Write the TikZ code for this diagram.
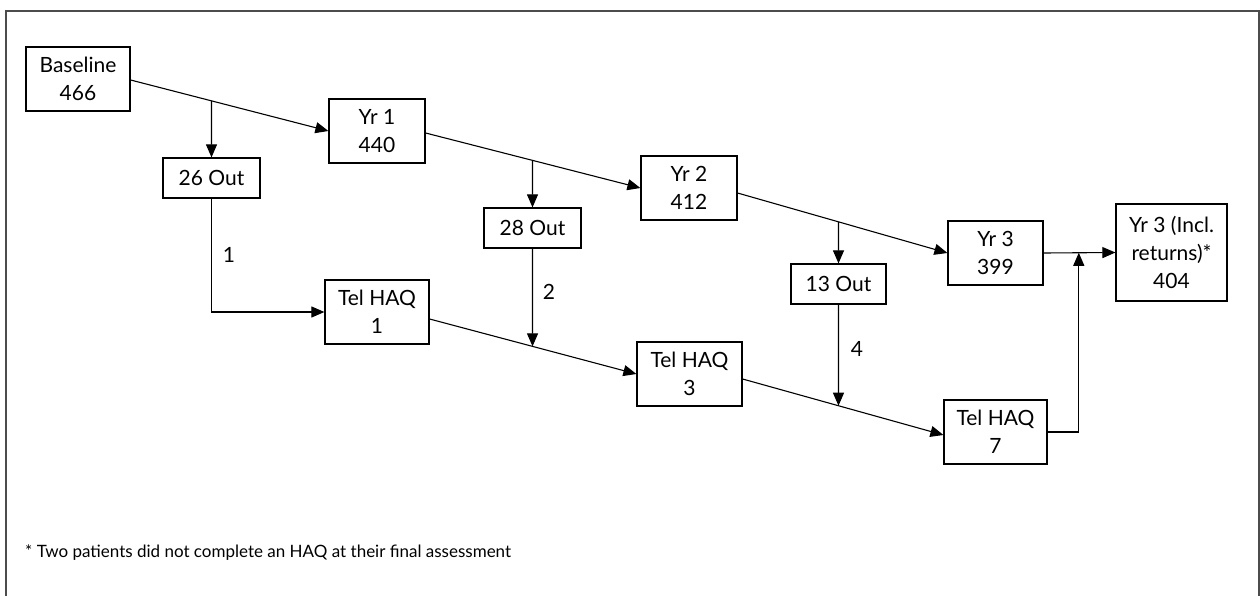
\documentclass[tikz,border=0pt]{standalone}
\usepackage{fontspec}
\setmainfont{Lato}
\usetikzlibrary{arrows.meta,calc}
\begin{document}
\begin{tikzpicture}[x=1pt,y=-1pt,
  box/.style={draw=black, line width=1.2pt, align=center, inner sep=0pt,
    font=\fontsize{21}{28}\selectfont},
  conn/.style={draw=black, line width=1.1pt},
  arr/.style={conn, -{Triangle[length=13pt,width=11pt]}},
  lbl/.style={font=\fontsize{21}{28}\selectfont, inner sep=0pt}]
\useasboundingbox (0,0) rectangle (1260,596);
% frame (three sides)
\draw[black!70, line width=2pt] (6,596) -- (6,11) -- (1259,11) -- (1259,596);

% nodes
\node[box, minimum width=104pt, minimum height=64pt] (base) at (78,79) {Baseline\\466};
\node[box, minimum width=96pt, minimum height=64pt] (yr1) at (377,131) {Yr 1\\440};
\node[box, minimum width=97pt, minimum height=40pt] (out1) at (211.5,178) {26 Out};
\node[box, minimum width=104pt, minimum height=64pt] (tel1) at (377,312) {Tel HAQ\\1};
\node[box, minimum width=96pt, minimum height=64pt] (yr2) at (689,188) {Yr 2\\412};
\node[box, minimum width=97pt, minimum height=40pt] (out2) at (532.5,228) {28 Out};
\node[box, minimum width=105pt, minimum height=64pt] (tel3) at (689.5,374) {Tel HAQ\\3};
\node[box, minimum width=95pt, minimum height=40pt] (out3) at (838.5,284) {13 Out};
\node[box, minimum width=95pt, minimum height=64pt] (yr3) at (995.5,253) {Yr 3\\399};
\node[box, minimum width=111pt, minimum height=97pt] (final) at (1171.5,252.5) {Yr 3 (Incl.\\returns)*\\404};
\node[box, minimum width=103pt, minimum height=64pt] (tel7) at (995.5,432) {Tel HAQ\\7};

% start points on right edges
\coordinate (s0) at ($(base.east)+(0,1)$);
\coordinate (s1) at ($(yr1.east)+(0,2)$);
\coordinate (s2) at ($(yr2.east)+(0,5)$);
\coordinate (t1) at ($(tel1.east)+(0,7)$);
\coordinate (t3) at ($(tel3.east)+(0,5)$);
\coordinate (e3) at ($(tel7.west)+(0,3)$);
\coordinate (j) at ($(yr3.east)!0.49!(final.west)$);

% main flow
\draw[arr] (s0) -- (yr1.west);
\draw[arr] (s1) -- (yr2.west);
\draw[arr] (s2) -- (yr3.west);
\draw[arr] (yr3.east) -- (final.west);
\draw[arr] (t1) -- (tel3.west);
\draw[arr] (t3) -- (e3);

% drop-outs
\draw[arr] (intersection of s0--yr1.west and out1.north--out1.south) -- (out1.north);
\draw[arr] (intersection of s1--yr2.west and out2.north--out2.south) -- (out2.north);
\draw[arr] (intersection of s2--yr3.west and out3.north--out3.south) -- (out3.north);

% to telephone HAQ
\draw[arr] (out1.south) |- (tel1.west);
\draw[arr] (out2.south) -- (intersection of t1--tel3.west and out2.north--out2.south);
\draw[arr] (out3.south) -- (intersection of t3--e3 and out3.north--out3.south);

% returns
\draw[arr] (tel7.east) -- (j |- tel7.east) -- (j);

% labels
\node[lbl] (l1) at (229,255) {1};
\node[lbl] (l2) at (549,292) {2};
\node[lbl] (l4) at (857,349) {4};

\node[lbl, anchor=west, font=\fontsize{17}{22}\selectfont] (foot) at (25,553) {* Two patients did not complete an HAQ at their final assessment};
\end{tikzpicture}
\end{document}
